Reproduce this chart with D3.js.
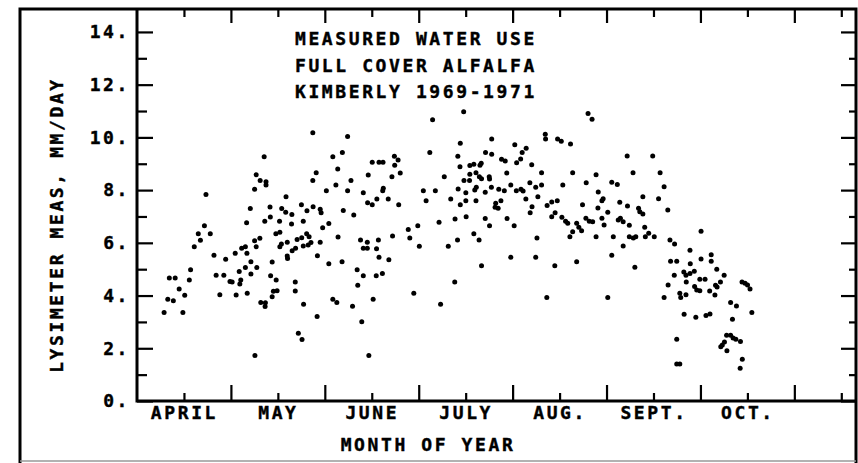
<!DOCTYPE html>
<html lang="en">
  <head>
    <meta charset="UTF-8" />
    <title>Measured Water Use - Full Cover Alfalfa</title>
    <script src="https://cdnjs.cloudflare.com/ajax/libs/d3/7.8.5/d3.min.js"></script>
    <style>
      html,
      body {
        margin: 0;
        background: #fff;
      }
      svg text {
        font-family: 'DejaVu Sans Mono', monospace;
        font-weight: bold;
        font-size: 18px;
        letter-spacing: 2.6px;
        fill: #000;
        stroke: #000;
        stroke-width: 0.4px;
      }
    </style>
  </head>
  <body>
    <div id="chart"></div>
    <script>
      // day of year (April 1 = 91) and measured water use, mm/day
      const dayOfYear = [
        148.1, 159.4, 132.3, 154.6, 157.7, 156.2, 149.2, 148.1, 129.7, 131.0,
        132.9, 132.9, 129.2, 113.4, 152.5, 155.6, 159.4, 160.5, 166.1, 164.5,
        165.9, 139.4, 127.8, 134.2, 138.0, 139.3, 141.3, 144.4, 146.2, 148.2,
        150.5, 150.8, 158.0, 161.4, 126.6, 132.5, 134.3, 137.3, 141.2, 145.0,
        151.3, 153.3, 112.9, 110.9, 114.8, 111.6, 109.6, 136.1, 137.4, 129.2,
        130.9, 129.7, 137.4, 137.9, 139.8, 143.0, 144.5, 146.1, 146.9, 147.5,
        146.6, 145.0, 142.5, 141.4, 150.5, 156.3, 163.6, 165.8, 164.5, 165.8,
        125.0, 126.2, 122.9, 126.7, 116.0, 119.8, 139.8, 149.6, 128.0, 126.2,
        129.9, 124.2, 128.0, 108.4, 101.5, 103.4, 108.0, 116.7, 119.2, 121.2,
        121.9, 124.7, 124.4, 104.7, 106.5, 101.0, 102.8, 99.8, 105.9, 117.9,
        123.2, 126.8, 134.4, 136.2, 134.9, 139.9, 135.3, 136.5, 134.9, 131.2,
        132.7, 132.6, 142.4, 142.4, 145.1, 153.3, 157.6, 162.5, 164.5, 162.7,
        154.6, 155.9, 161.0, 149.5, 164.0, 143.4, 144.6, 129.3, 166.3, 167.7,
        168.7, 170.7, 169.6, 172.8, 180.9, 189.6, 194.2, 202.9, 212.4, 220.5,
        226.7, 233.8, 224.1, 197.1, 187.0, 237.5, 238.8, 186.1, 196.0, 206.2,
        213.7, 223.6, 223.7, 227.6, 228.8, 231.8, 195.2, 204.2, 206.2, 209.4,
        210.6, 216.1, 217.4, 214.3, 215.6, 219.2, 167.4, 169.6, 170.9, 174.6,
        175.8, 174.7, 173.8, 176.5, 195.9, 199.1, 200.4, 202.4, 202.8, 199.1,
        201.1, 202.2, 202.9, 205.4, 205.5, 211.1, 222.4, 232.5, 236.9, 190.8,
        197.2, 199.0, 195.3, 197.8, 201.2, 200.7, 204.1, 206.1, 208.5, 210.3,
        212.4, 214.2, 215.7, 216.4, 218.6, 220.5, 222.4, 229.3, 171.0, 170.8,
        168.9, 172.6, 167.4, 176.0, 184.0, 187.9, 184.9, 192.9, 196.0, 197.8,
        201.1, 207.5, 207.3, 208.3, 209.2, 217.3, 221.2, 219.3, 218.7, 224.2,
        225.7, 227.5, 226.8, 225.7, 229.0, 230.2, 230.9, 235.7, 233.8, 234.5,
        235.4, 232.5, 231.6, 189.1, 194.3, 197.9, 204.1, 205.5, 211.2, 213.5,
        179.1, 182.2, 174.0, 179.6, 182.7, 192.1, 195.1, 200.4, 202.1, 220.9,
        169.4, 168.8, 250.2, 258.5, 240.1, 252.1, 260.9, 245.2, 247.0, 262.2,
        240.8, 242.4, 242.0, 255.3, 260.4, 240.7, 247.8, 250.3, 253.9, 254.3,
        255.3, 263.4, 243.9, 236.8, 237.9, 239.0, 242.0, 242.7, 247.3, 248.0,
        248.9, 250.9, 255.9, 240.1, 245.7, 250.9, 252.2, 253.0, 256.1, 257.2,
        259.0, 248.9, 264.1, 265.6, 274.2, 270.6, 245.2, 274.2, 277.5, 252.7,
        264.3, 266.3, 277.5, 270.7, 265.5, 268.6, 269.3, 270.6, 272.0, 279.3,
        281.7, 273.8, 275.5, 269.4, 263.5, 280.5, 272.1, 272.8, 273.8, 277.0,
        278.9, 279.4, 278.7, 287.5, 288.5, 289.3, 290.1, 267.3, 267.6, 269.3,
        262.2, 243.9, 283.8, 285.7, 290.7, 268.7, 272.5, 275.8, 277.1, 284.4,
        266.3, 282.5, 283.8, 284.6, 285.5, 287.0, 281.8, 281.1, 280.6, 282.6,
        266.3, 267.3, 287.6, 286.9
      ];
      const waterUse = [
        10.18, 10.03, 9.27, 9.27, 9.43, 8.80, 8.66, 8.36, 8.58, 8.36,
        8.32, 8.19, 8.03, 7.83, 7.98, 8.19, 7.98, 8.36, 8.57, 7.90,
        7.52, 7.75, 7.30, 7.36, 7.30, 7.16, 7.07, 7.44, 7.22, 7.37,
        7.27, 7.14, 7.23, 7.06, 6.76, 6.82, 6.98, 6.82, 6.71, 6.82,
        6.57, 6.73, 6.65, 6.34, 6.34, 6.10, 5.85, 6.34, 6.40, 6.08,
        6.17, 5.85, 5.85, 5.96, 6.02, 6.13, 6.19, 6.34, 6.23, 6.01,
        5.92, 5.88, 5.79, 5.70, 6.02, 6.22, 6.11, 6.02, 5.79, 5.79,
        5.79, 5.85, 5.60, 5.60, 5.53, 5.38, 5.50, 5.51, 5.28, 5.06,
        5.06, 4.91, 4.82, 4.98, 4.67, 4.67, 4.59, 4.77, 4.77, 4.53,
        4.51, 4.59, 4.44, 4.25, 4.01, 3.86, 3.80, 3.36, 3.36, 4.03,
        4.02, 4.09, 4.75, 4.59, 5.27, 5.41, 4.16, 4.18, 3.95, 3.74,
        3.73, 3.58, 4.51, 4.17, 3.67, 5.21, 5.28, 4.98, 4.75, 4.39,
        3.86, 3.74, 3.59, 3.21, 3.01, 2.57, 2.33, 1.73, 1.73, 3.86,
        4.75, 4.84, 5.45, 5.36, 4.09, 3.67, 4.51, 5.13, 5.45, 5.45,
        5.13, 5.28, 3.93, 10.97, 10.67, 10.91, 10.69, 9.43, 9.78, 9.94,
        9.72, 10.12, 9.94, 9.94, 9.85, 9.75, 9.28, 9.43, 9.36, 9.17,
        9.10, 9.43, 9.59, 9.04, 9.18, 8.96, 9.06, 9.06, 9.06, 9.28,
        9.14, 8.94, 8.51, 8.65, 8.89, 8.93, 8.98, 8.94, 9.02, 8.60,
        8.66, 8.51, 8.43, 8.51, 8.42, 8.65, 8.66, 8.66, 8.28, 8.51,
        8.36, 8.36, 8.04, 7.90, 8.11, 8.00, 7.92, 8.11, 8.03, 7.98,
        8.19, 7.98, 8.03, 7.97, 8.28, 8.11, 8.19, 8.19, 8.07, 7.98,
        7.66, 7.66, 7.44, 7.44, 7.98, 7.98, 7.60, 7.66, 7.44, 7.60,
        7.60, 7.50, 7.35, 7.31, 7.60, 7.66, 7.75, 7.37, 7.14, 7.42,
        7.55, 7.60, 7.14, 6.99, 6.97, 6.82, 6.74, 7.44, 6.74, 6.59,
        6.46, 6.42, 6.23, 6.78, 6.90, 6.99, 6.92, 6.65, 6.92, 6.65,
        6.51, 6.65, 6.26, 6.18, 5.87, 5.87, 6.11, 6.34, 6.11, 6.18,
        6.11, 5.78, 9.29, 9.29, 8.58, 8.66, 8.66, 8.30, 8.21, 8.13,
        7.93, 7.67, 7.60, 7.75, 7.67, 7.32, 7.54, 7.40, 7.31, 7.18,
        7.09, 7.25, 7.16, 6.93, 6.82, 6.80, 6.93, 6.68, 6.87, 6.93,
        6.80, 6.67, 6.59, 6.23, 6.23, 6.23, 6.18, 6.23, 6.23, 6.36,
        6.23, 5.88, 6.11, 5.96, 6.44, 5.72, 5.53, 5.39, 5.55, 5.07,
        5.30, 5.30, 5.30, 5.21, 4.77, 4.89, 4.77, 4.84, 4.92, 5.00,
        4.77, 4.62, 4.62, 4.51, 4.40, 4.51, 4.34, 4.21, 4.18, 4.17,
        4.39, 4.32, 4.02, 4.51, 4.47, 4.40, 4.25, 4.09, 3.93, 4.03,
        3.93, 3.93, 3.74, 3.60, 3.36, 3.29, 3.18, 3.24, 3.30, 3.10,
        2.34, 2.49, 2.49, 2.39, 2.34, 2.26, 2.24, 2.12, 2.06, 1.91,
        1.40, 1.40, 1.58, 1.24
      ];

      const yMajor = [0, 2, 4, 6, 8, 10, 12, 14];
      const yMinor = [1, 3, 5, 7, 9, 11, 13];
      const monthNames = ["APRIL", "MAY", "JUNE", "JULY", "AUG.", "SEPT.", "OCT."];
      const titleLines = ["MEASURED WATER USE", "FULL COVER ALFALFA", "KIMBERLY 1969-1971"];

      // axis runs from April 1 with ticks every half month (30.5 day months)
      const startDay = 91,
        halfMonth = 15.25;
      const monthStarts = d3.range(0, 8).map((i) => startDay + i * 2 * halfMonth);
      const midMonths = d3.range(0, 8).map((i) => startDay + (i * 2 + 1) * halfMonth);

      const width = 858,
        height = 463;
      const margin = { left: 137, right: 855, top: 9, bottom: 401 };

      const x = d3.scaleLinear().domain([91, 324.2]).range([margin.left, margin.right]);
      const y = d3.scaleLinear().domain([0, 14.87]).range([margin.bottom, margin.top]);

      const svg = d3
        .select("#chart")
        .append("svg")
        .attr("width", width)
        .attr("height", height);

      // outer frame
      svg
        .append("path")
        .attr("d", `M20,${height} V9 H856 V${height}`)
        .attr("fill", "none")
        .attr("stroke", "#000")
        .attr("stroke-width", 3);
      svg
        .append("line")
        .attr("x1", 20)
        .attr("x2", 856)
        .attr("y1", 461)
        .attr("y2", 461)
        .attr("stroke", "#999")
        .attr("stroke-width", 1.5);

      // plot box: left and bottom axis lines
      svg
        .append("path")
        .attr("d", `M${margin.left},${margin.top} V${margin.bottom} H856`)
        .attr("fill", "none")
        .attr("stroke", "#000")
        .attr("stroke-width", 3);

      const tickAxis = (axis, at, size) => {
        const g = svg
          .append("g")
          .attr("transform", at)
          .call(axis.tickSize(size).tickFormat(""));
        g.select(".domain").remove();
        g.selectAll("line").attr("stroke", "#000").attr("stroke-width", 2.2);
        return g;
      };

      // inward ticks on all four sides
      tickAxis(d3.axisRight(y).tickValues(yMajor), `translate(${margin.left},0)`, 16);
      tickAxis(d3.axisRight(y).tickValues(yMinor), `translate(${margin.left},0)`, 10);
      tickAxis(d3.axisLeft(y).tickValues(yMajor), `translate(856,0)`, 15);
      tickAxis(d3.axisLeft(y).tickValues(yMinor), `translate(856,0)`, 7);
      tickAxis(d3.axisTop(x).tickValues(monthStarts.slice(1)), `translate(0,${margin.bottom})`, 16);
      tickAxis(d3.axisTop(x).tickValues(midMonths), `translate(0,${margin.bottom})`, 8);
      tickAxis(d3.axisBottom(x).tickValues(monthStarts.slice(1)), `translate(0,${margin.top})`, 14);
      tickAxis(d3.axisBottom(x).tickValues(midMonths), `translate(0,${margin.top})`, 8);

      // y tick labels
      const yLab = svg
        .append("g")
        .attr("transform", `translate(${margin.left},0)`)
        .call(
          d3
            .axisLeft(y)
            .tickValues(yMajor)
            .tickSize(0)
            .tickPadding(7)
            .tickFormat((d) => d + ".")
        );
      yLab.select(".domain").remove();
      yLab.attr("font-family", null).attr("font-size", null);

      // month labels
      const xLab = svg
        .append("g")
        .attr("transform", `translate(0,${margin.bottom})`)
        .call(
          d3
            .axisBottom(x)
            .tickValues(midMonths.slice(0, monthNames.length))
            .tickSize(0)
            .tickPadding(5)
            .tickFormat((d, i) => monthNames[i])
        );
      xLab.select(".domain").remove();
      xLab.attr("font-family", null).attr("font-size", null);

      // axis titles
      svg
        .append("text")
        .attr("x", 428)
        .attr("y", 451)
        .attr("text-anchor", "middle")
        .text("MONTH OF YEAR");
      svg
        .append("text")
        .attr("transform", "translate(63,225) rotate(-90)")
        .attr("text-anchor", "middle")
        .text("LYSIMETER MEAS, MM/DAY");

      // title block
      svg
        .append("g")
        .selectAll("text")
        .data(titleLines)
        .join("text")
        .attr("x", 295)
        .attr("y", (d, i) => 45 + i * 26.5)
        .text((d) => d);

      // measured points
      svg
        .append("g")
        .selectAll("circle")
        .data(dayOfYear)
        .join("circle")
        .attr("cx", (d) => x(d))
        .attr("cy", (d, i) => y(waterUse[i]))
        .attr("r", 2.5)
        .attr("fill", "#000");
    </script>
  </body>
</html>
